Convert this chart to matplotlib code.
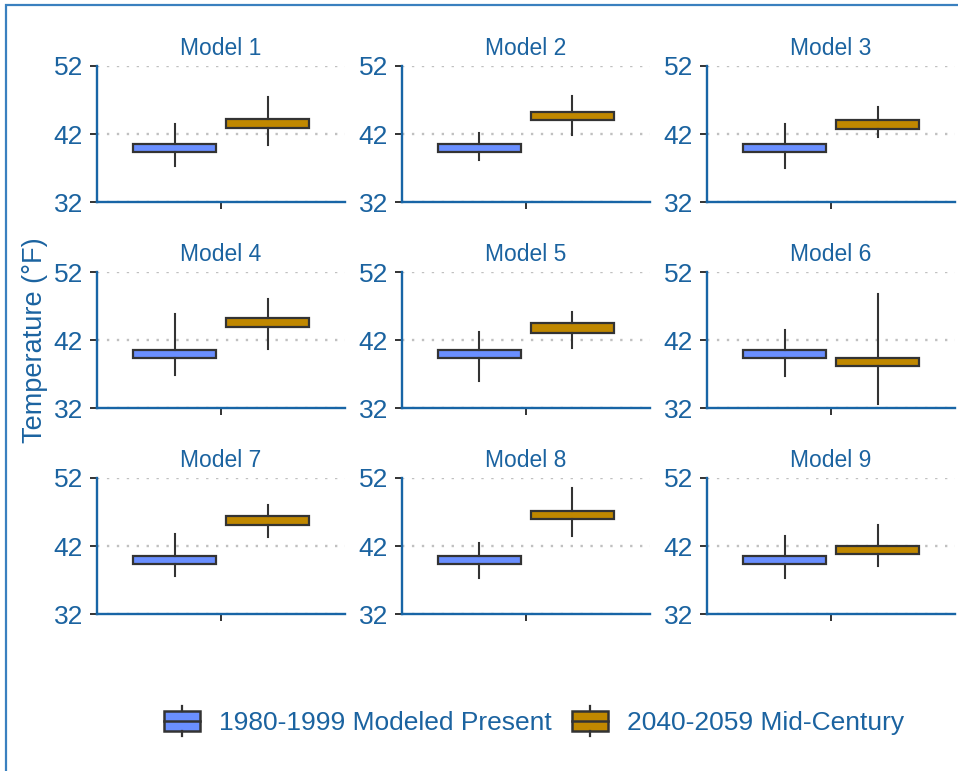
import numpy as np
import matplotlib
matplotlib.use('Agg')
import matplotlib.pyplot as plt
from matplotlib.patches import Rectangle, Patch
from matplotlib.lines import Line2D
from matplotlib.legend_handler import HandlerBase

# values (deg F)
models = ['Model 1', 'Model 2', 'Model 3', 'Model 4', 'Model 5',
          'Model 6', 'Model 7', 'Model 8', 'Model 9']
series = ['1980-1999 Modeled Present', '2040-2059 Mid-Century']

present_q1 = [39.3, 39.3, 39.3, 39.35, 39.35, 39.3, 39.3, 39.3, 39.3]
present_q3 = [40.55, 40.6, 40.6, 40.6, 40.6, 40.6, 40.55, 40.55, 40.55]
present_lo = [37.3, 38.2, 37.0, 36.9, 36.0, 36.7, 37.6, 37.3, 37.3]
present_hi = [43.4, 42.2, 43.5, 45.8, 43.2, 43.4, 43.7, 42.5, 43.5]

future_q1 = [42.9, 44.0, 42.7, 43.9, 43.1, 38.2, 45.1, 45.9, 40.8]
future_q3 = [44.2, 45.3, 44.05, 45.2, 44.45, 39.4, 46.4, 47.2, 42.05]
future_lo = [40.4, 41.8, 41.5, 40.7, 40.8, 32.6, 43.3, 43.4, 39.1]
future_hi = [47.5, 47.6, 46.0, 48.1, 46.1, 48.8, 48.0, 50.6, 45.1]

yticks = [32, 42, 52]

colors = ['#6a8fff', '#c08800']
edge = '#333333'
txt = '#1b63a0'
axcol = '#1865a6'

plt.rcParams['font.family'] = ['Liberation Sans', 'DejaVu Sans']

fig = plt.figure(figsize=(9.58, 7.71), dpi=100)


def stats(q1, q3, lo, hi):
    # median is not visible in the reference boxes, so it is hidden
    return dict(med=q1, q1=q1, q3=q3, whislo=lo, whishi=hi, fliers=[])


W, H = 958.0, 771.0
col_left = [97, 402, 707]
row_bottom = [202, 408, 614]
axw, axh = 248, 136

for i, name in enumerate(models):
    r, c = divmod(i, 3)
    ax = fig.add_axes([col_left[c] / W, 1 - row_bottom[r] / H, axw / W, axh / H])
    data = [
        stats(present_q1[i], present_q3[i], present_lo[i], present_hi[i]),
        stats(future_q1[i], future_q3[i], future_lo[i], future_hi[i]),
    ]
    bp = ax.bxp(data, positions=[0.775, 1.225], widths=0.40, patch_artist=True,
                showcaps=False, showfliers=False,
                boxprops=dict(edgecolor=edge, linewidth=1.6),
                whiskerprops=dict(color=edge, linewidth=1.5),
                medianprops=dict(linewidth=0))
    for b, col in zip(bp['boxes'], colors):
        b.set_facecolor(col)
    ax.set_xlim(0.4, 1.6)
    ax.set_ylim(32, 52)
    ax.set_xticks([1])
    ax.set_xticklabels([''])
    ax.set_yticks(yticks)
    ax.set_yticklabels([str(t) for t in yticks])
    ax.yaxis.grid(True, linestyle=(0, (1, 3.2)), color='#c0c0c0', linewidth=1.7)
    ax.set_axisbelow(True)
    for s in ['top', 'right']:
        ax.spines[s].set_visible(False)
    for s in ['left', 'bottom']:
        ax.spines[s].set_color(axcol)
        ax.spines[s].set_linewidth(1.7)
    ax.tick_params(axis='both', color=edge, length=5, width=1.4, pad=5,
                   labelcolor=txt, labelsize=19)
    ax.set_title(name, color=txt, fontsize=16.5, pad=8)

fig.text(35 / W, 1 - 340 / H, 'Temperature (°F)', rotation=90, ha='center',
         va='center', color=txt, fontsize=19.5)


class BoxKey(HandlerBase):
    def create_artists(self, legend, orig_handle, xdescent, ydescent,
                       width, height, fontsize, trans):
        x0, y0 = -xdescent, -ydescent
        xm = x0 + width / 2
        box = Rectangle((x0, y0 + height / 6), width, height * 2 / 3,
                        facecolor=orig_handle.get_facecolor(),
                        edgecolor=edge, linewidth=1.8, transform=trans)
        med = Line2D([x0, x0 + width], [y0 + height / 2] * 2, color=edge,
                     linewidth=1.8, transform=trans)
        top = Line2D([xm, xm], [y0 + height * 5 / 6, y0 + height], color=edge,
                     linewidth=1.6, transform=trans)
        bot = Line2D([xm, xm], [y0, y0 + height / 6], color=edge,
                     linewidth=1.6, transform=trans)
        return [box, med, top, bot]


handles = [Patch(facecolor=c) for c in colors]
fig.legend(handles, series, handler_map={Patch: BoxKey()}, loc='center',
           bbox_to_anchor=(534 / W, 1 - 721 / H), ncol=2, frameon=False,
           fontsize=19, labelcolor=txt, handlelength=1.36, handleheight=1.36,
           handletextpad=0.72, columnspacing=0.76)

fig.add_artist(Rectangle((6 / W, -0.1), 1.2, 1.1 - 5 / H, transform=fig.transFigure,
                         fill=False, edgecolor='#3a80bf', linewidth=1.6))

fig.savefig('out.png', dpi=100)
